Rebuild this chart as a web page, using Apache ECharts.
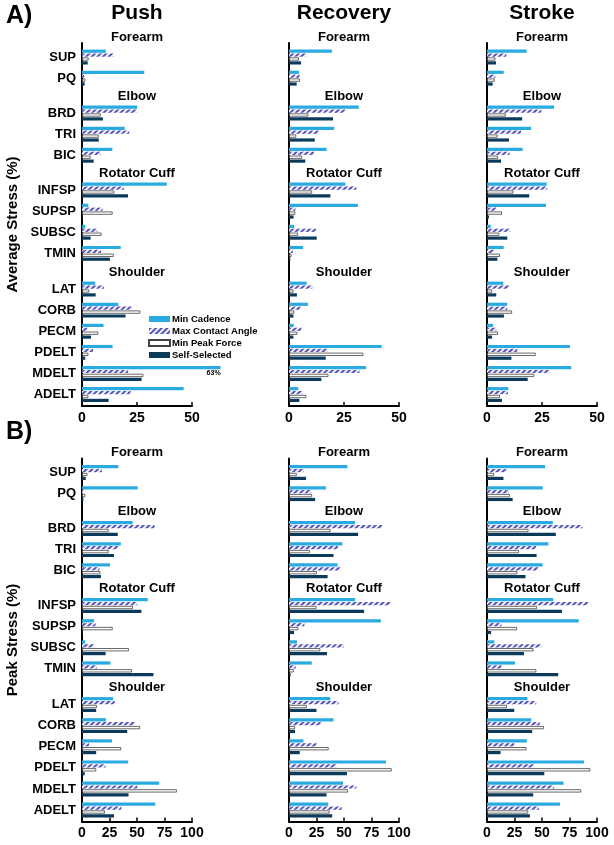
<!DOCTYPE html>
<html><head><meta charset="utf-8">
<script src="https://cdn.jsdelivr.net/npm/echarts@6/dist/echarts.min.js"></script>
<style>html,body{margin:0;padding:0;background:#fff}#chart{width:614px;height:845px}</style>
</head><body><div id="chart"></div>
<script>
// ---------- data ----------
const phases = ['Push', 'Recovery', 'Stroke'];
const groupNames = ['Forearm', 'Elbow', 'Rotator Cuff', 'Shoulder'];
const forearmMuscles = ['SUP', 'PQ'];
const elbowMuscles = ['BRD', 'TRI', 'BIC'];
const rotatorMuscles = ['INFSP', 'SUPSP', 'SUBSC', 'TMIN'];
const shoulderMuscles = ['LAT', 'CORB', 'PECM', 'PDELT', 'MDELT', 'ADELT'];
const seriesNames = ['Min Cadence', 'Max Contact Angle', 'Min Peak Force', 'Self-Selected'];
const avgTicks = [0, 25, 50];
const peakTicks = [0, 25, 50, 75, 100];

// Average stress (%) — muscle order: SUP,PQ,BRD,TRI,BIC,INFSP,SUPSP,SUBSC,TMIN,LAT,CORB,PECM,PDELT,MDELT,ADELT
const avgPushCadence = [10.8, 28.3, 25, 19.4, 13.8, 38.5, 2.9, 1.5, 17.6, 6, 16.5, 9.8, 13.9, 63, 46.2];
const avgPushAngle   = [14.5, 1, 24.8, 21.5, 8.5, 19, 9.4, 7, 8.6, 10, 22.6, 2.4, 5, 21, 22.1];
const avgPushForce   = [3, 1.5, 8.5, 7.6, 3.9, 14.7, 13.9, 8.9, 14.4, 3.3, 26.5, 7.4, 2.9, 27.9, 2.9];
const avgPushSelf    = [2.6, 1.2, 9.5, 7.6, 5.3, 20.9, 0.3, 3.9, 12.7, 6.2, 19.8, 4.1, 1.5, 27.1, 12.1];

const avgRecCadence = [19.5, 4.5, 31.7, 20.5, 17.1, 25.6, 31.3, 2.3, 6.4, 8, 8.6, 2.1, 42.1, 35, 4.2];
const avgRecAngle   = [7.6, 4.8, 25.5, 13.6, 11.4, 30.6, 2.9, 12.3, 1.7, 10.6, 5.2, 5.6, 17.4, 32, 6.1];
const avgRecForce   = [4.5, 5, 8.8, 3.3, 5.9, 10.5, 2.9, 4.1, 1.1, 2, 2.4, 3.8, 33.8, 17.9, 7.9];
const avgRecSelf    = [5.5, 3.5, 20, 11.7, 7.4, 18.8, 2.1, 12.6, 0.6, 3.6, 2, 2, 16.7, 14.7, 4.7];

const avgStrCadence = [18, 7.6, 30.5, 20, 16.2, 27.1, 26.8, 1.7, 7.6, 7.4, 9.2, 2.7, 37.7, 38.3, 9.7];
const avgStrAngle   = [8.8, 3.8, 24.7, 15.5, 10.3, 27.4, 4.2, 10.5, 3.2, 10, 9.2, 4.2, 13.8, 28.6, 9.5];
const avgStrForce   = [3.8, 3.5, 8.5, 4.8, 5, 12, 6.8, 5.6, 5.9, 2.3, 11.4, 5, 22.1, 21.5, 5.9];
const avgStrSelf    = [4.1, 2.6, 16, 10, 6.4, 19.2, 0.9, 9.2, 4.7, 4.2, 7.7, 2.3, 11.1, 18.5, 6.8];

// Peak stress (%)
const peakPushCadence = [33, 50.6, 46, 35.3, 25.5, 59.8, 11, 3, 25.8, 28.2, 21.8, 27.3, 42, 70.2, 66.6];
const peakPushAngle   = [18.1, 1.2, 66, 32.8, 16, 50.3, 12.3, 10.7, 13.5, 29.8, 48.2, 6.4, 21.5, 50.3, 35.9];
const peakPushForce   = [4.9, 3, 24.2, 24.2, 16.6, 46.3, 27.9, 42.6, 45.4, 13.5, 52.8, 35.6, 12.9, 86.2, 20.9];
const peakPushSelf    = [3.4, 1.2, 32.5, 29.1, 17.2, 54, 0.6, 21.5, 65, 12.9, 41.1, 12.9, 2.5, 42.3, 29.1];

const peakRecCadence = [53, 33.5, 60, 48.5, 44.2, 60, 83.5, 7.3, 20.7, 37.5, 40.5, 13.1, 88.1, 49.1, 35.7];
const peakRecAngle   = [13.4, 20.1, 84.8, 44.5, 47, 92.4, 14, 49.7, 6.1, 45.1, 29, 25, 43, 61.3, 47.9];
const peakRecForce   = [7, 21, 37.8, 18.9, 25.3, 25, 8.5, 28.4, 4.3, 16.2, 5.5, 36, 93.3, 53.7, 36.9];
const peakRecSelf    = [15.5, 23.8, 62.8, 40.5, 35.1, 68.3, 4.6, 34.5, 1.5, 25, 5.5, 9.8, 52.7, 34.1, 39.3];

const peakStrCadence = [52.8, 50.6, 59.8, 55.8, 50.6, 60.1, 83.4, 6.7, 25.5, 36.8, 40.2, 36.2, 88.3, 69.6, 66.3];
const peakStrAngle   = [17.8, 19.6, 86.8, 44.8, 46.9, 92, 13.2, 49.4, 13.2, 44.8, 47.9, 24.8, 42.6, 61, 47.2];
const peakStrForce   = [6.4, 20.9, 37.7, 29.1, 27.6, 45.4, 27.3, 42.3, 44.8, 18.1, 51.8, 35.9, 93.9, 85.6, 37.4];
const peakStrSelf    = [15, 23.3, 62.6, 45.1, 35, 68.1, 3.7, 33.7, 64.7, 24.8, 41.1, 12.3, 52.1, 42, 39];

// ---------- build ----------
const FONT = '"Liberation Sans", Arial, Helvetica, sans-serif';
const groups = [forearmMuscles, elbowMuscles, rotatorMuscles, shoulderMuscles];

const panels = [
  { label: 'A)', yTitle: 'Average Stress (%)', ticks: avgTicks, off: 0,
    data: [[avgPushCadence, avgPushAngle, avgPushForce, avgPushSelf],
           [avgRecCadence, avgRecAngle, avgRecForce, avgRecSelf],
           [avgStrCadence, avgStrAngle, avgStrForce, avgStrSelf]] },
  { label: 'B)', yTitle: 'Peak Stress (%)', ticks: peakTicks, off: 415.5,
    data: [[peakPushCadence, peakPushAngle, peakPushForce, peakPushSelf],
           [peakRecCadence, peakRecAngle, peakRecForce, peakRecSelf],
           [peakStrCadence, peakStrAngle, peakStrForce, peakStrSelf]] }
];

const colLeft = [82, 289, 487];
const colW = 110;
const frameTop = 43, frameBottom = 406;
const rowH = 21.1;
const groupTops = [46.5, 102.5, 179.5, 278.5];
const headerYs = [37, 96, 173, 272];

const itemStyles = [
  { color: '#29abe2' },
  { color: '#f4f4fb', decal: { symbol: 'rect', symbolSize: 1, color: '#5553bd', dashArrayX: [1, 0], dashArrayY: [1.2, 1.6], rotation: -Math.PI / 4 } },
  { color: '#ffffff', borderColor: '#444444', borderWidth: 0.8 },
  { color: '#0b3a5a' }
];

const grid = [], xAxis = [], yAxis = [], series = [], graphic = [];
const axisLineStyle = { color: '#000', width: 2 };

panels.forEach((p) => {
  const max = p.ticks[p.ticks.length - 1];
  const interval = p.ticks[1] - p.ticks[0];
  graphic.push({ type: 'text', left: 6, top: 4 + p.off, style: { text: p.label, font: 'bold 25px ' + FONT, fill: '#000' } });
  graphic.push({ type: 'text', x: 13, y: (frameTop + frameBottom) / 2 + p.off, rotation: Math.PI / 2,
    style: { text: p.yTitle, font: 'bold 15px ' + FONT, fill: '#000', align: 'center', verticalAlign: 'middle' } });
  for (let c = 0; c < 3; c++) {
    const left = colLeft[c];
    // frame grid (axis lines + ticks)
    let gi = grid.length;
    grid.push({ left: left, width: colW, top: frameTop + p.off, height: frameBottom - frameTop });
    xAxis.push({ gridIndex: gi, type: 'value', min: 0, max: max, interval: interval,
      axisLine: { show: true, onZero: false, lineStyle: axisLineStyle },
      axisTick: { show: true, inside: true, length: 4, lineStyle: { color: '#000', width: 1.5 } },
      axisLabel: { fontSize: 14, fontWeight: 'bold', color: '#000', margin: 5, fontFamily: FONT },
      splitLine: { show: false } });
    yAxis.push({ gridIndex: gi, type: 'value', min: 0, max: 1,
      axisLine: { show: true, lineStyle: axisLineStyle }, axisTick: { show: false },
      axisLabel: { show: false }, splitLine: { show: false } });
    if (p.off === 0) {
      graphic.push({ type: 'text', x: left + colW / 2, y: 13,
        style: { text: phases[c], font: 'bold 21px ' + FONT, fill: '#000', align: 'center', verticalAlign: 'middle' } });
    }
    let start = 0;
    groups.forEach((muscles, g) => {
      const n = muscles.length;
      gi = grid.length;
      grid.push({ left: left, width: colW, top: groupTops[g] + p.off, height: rowH * n });
      xAxis.push({ gridIndex: gi, type: 'value', min: 0, max: max, show: false });
      yAxis.push({ gridIndex: gi, type: 'category', inverse: true, data: muscles,
        axisLine: { show: false }, axisTick: { show: false }, splitLine: { show: false },
        axisLabel: { show: c === 0, fontSize: 13, fontWeight: 'bold', color: '#000', margin: 6, fontFamily: FONT } });
      graphic.push({ type: 'text', x: left + colW / 2, y: headerYs[g] + p.off,
        style: { text: groupNames[g], font: 'bold 13px ' + FONT, fill: '#000', align: 'center', verticalAlign: 'middle' } });
      for (let s = 0; s < 4; s++) {
        const vals = p.data[c][s].slice(start, start + n);
        series.push({
          type: 'bar', name: seriesNames[s], xAxisIndex: gi, yAxisIndex: gi,
          barWidth: 3.2, barGap: '22%', clip: false, animation: false,
          itemStyle: itemStyles[s],
          emphasis: { disabled: true },
          data: vals.map(v => v > max ? { value: v, label: { show: true, formatter: '{c}%', position: ['100%', '100%'],
            align: 'right', verticalAlign: 'top', fontSize: 7, fontWeight: 'bold', color: '#000', fontFamily: FONT } } : v)
        });
      }
      start += n;
    });
  }
});

const chart = echarts.init(document.getElementById('chart'), null, { renderer: 'canvas' });
chart.setOption({
  backgroundColor: '#fff',
  animation: false,
  textStyle: { fontFamily: FONT },
  legend: { data: seriesNames, orient: 'vertical', left: 148, top: 314, itemWidth: 21, itemHeight: 6, itemGap: 2,
    icon: 'rect', padding: 0, selectedMode: false,
    textStyle: { fontSize: 9.5, fontWeight: 'bold', color: '#000', fontFamily: FONT, padding: [0, 0, 0, -3] } },
  grid: grid, xAxis: xAxis, yAxis: yAxis, series: series, graphic: graphic
});
</script></body></html>
